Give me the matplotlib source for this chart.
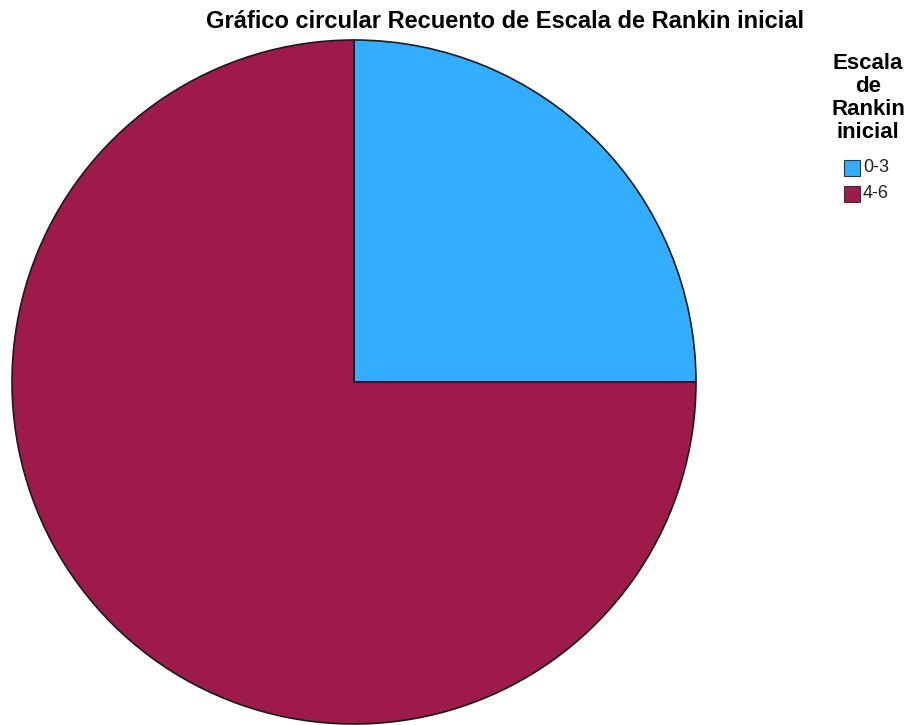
import matplotlib.pyplot as plt
from matplotlib.patches import Rectangle

labels = ["0-3", "4-6"]
counts = [25, 75]
colors = ["#33adff", "#9e1a4b"]

plt.rcParams['font.family'] = ['Liberation Sans', 'DejaVu Sans']

W, H = 913, 725
fig = plt.figure(figsize=(W / 100, H / 100), dpi=100)

# pie centre and radius in pixels
cx, cy, r = 354, 382, 342
ax = fig.add_axes([(cx - r) / W, (H - cy - r) / H, 2 * r / W, 2 * r / H])
wedges, _ = ax.pie(counts, colors=colors, startangle=90, counterclock=False, radius=1,
                   wedgeprops=dict(edgecolor="#1a1a1a", linewidth=1.2))
for w in wedges:
    w.set_clip_on(False)
ax.set_xlim(-1, 1)
ax.set_ylim(-1, 1)
ax.set_aspect("auto")
ax.axis("off")

fig.text(505 / W, 1 - 21 / H, "Gráfico circular Recuento de Escala de Rankin inicial",
         ha="center", va="center", fontsize=17, fontweight="bold")

fig.text(868 / W, 1 - 98 / H, "Escala\nde\nRankin\ninicial", ha="center", va="center",
         fontsize=16, fontweight="bold", linespacing=1.12)

# legend swatches and labels
for i, (lab, c) in enumerate(zip(labels, colors)):
    top = 160 + i * 26
    fig.add_artist(Rectangle((844 / W, 1 - (top + 16) / H), 16 / W, 16 / H,
                             facecolor=c, edgecolor="#333333", linewidth=0.8,
                             transform=fig.transFigure))
    fig.text(863 / W, 1 - (top + 8) / H, lab, ha="left", va="center",
             fontsize=13, color="#222222")

fig.savefig("out.png", dpi=100)
